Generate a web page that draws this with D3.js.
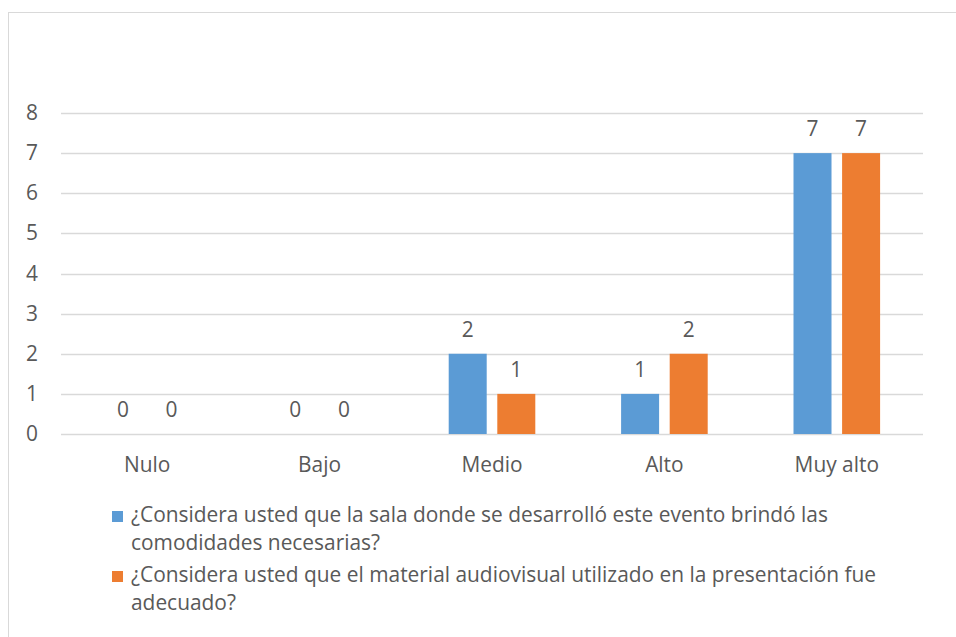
<!DOCTYPE html>
<html>
<head>
<meta charset="utf-8">
<script src="https://cdn.jsdelivr.net/npm/d3@7"></script>
<style>
  body { margin: 0; background: #fff; }
  svg text { font-family: "Open Sans", "Liberation Sans", sans-serif; fill: #595959; }
</style>
</head>
<body>
<div id="chart"></div>
<script>
var categories = ['Nulo', 'Bajo', 'Medio', 'Alto', 'Muy alto'];
var seriesNames = [
  '¿Considera usted que la sala donde se desarrolló este evento brindó las comodidades necesarias?',
  '¿Considera usted que el material audiovisual utilizado en la presentación fue adecuado?'
];
// legend text is wrapped in two lines, like the original
var legendLines = [
  ['¿Considera usted que la sala donde se desarrolló este evento brindó las', 'comodidades necesarias?'],
  ['¿Considera usted que el material audiovisual utilizado en la presentación fue', 'adecuado?']
];
var salaValues = [0, 0, 2, 1, 7];
var materialValues = [0, 0, 1, 2, 7];
var yTicks = [0, 1, 2, 3, 4, 5, 6, 7, 8];
var colors = ['#5B9BD5', '#ED7D31'];

var width = 956, height = 637;
var plot = { left: 61, right: 923, top: 113, bottom: 434 };
var fontSize = 20.9;

var svg = d3.select('#chart').append('svg')
  .attr('width', width)
  .attr('height', height);

// chart frame (only left and top edges visible in the picture)
svg.append('rect')
  .attr('x', 8.5).attr('y', 12.5)
  .attr('width', 1000).attr('height', 1000)
  .attr('fill', 'none')
  .attr('stroke', '#d9d9d9')
  .attr('stroke-width', 1);

var y = d3.scaleLinear().domain([0, 8]).range([plot.bottom, plot.top]);

var x0 = d3.scaleBand()
  .domain(categories)
  .range([plot.left, plot.right])
  .paddingInner(0.4977)
  .paddingOuter(0.4977 / 2);

var x1 = d3.scaleBand()
  .domain([0, 1])
  .range([0, x0.bandwidth()])
  .paddingInner(0.218);

// gridlines
svg.append('g').selectAll('line')
  .data(yTicks)
  .enter()
  .append('line')
  .attr('x1', plot.left)
  .attr('x2', plot.right)
  .attr('y1', d => Math.round(y(d)) + 0.5)
  .attr('y2', d => Math.round(y(d)) + 0.5)
  .attr('stroke', '#d9d9d9')
  .attr('stroke-width', 1.3);

// y tick labels
svg.append('g').selectAll('text')
  .data(yTicks)
  .enter()
  .append('text')
  .attr('x', 38)
  .attr('y', d => y(d) + 7)
  .attr('text-anchor', 'end')
  .attr('font-size', fontSize)
  .text(d => d);

// x category labels
svg.append('g').selectAll('text')
  .data(categories)
  .enter()
  .append('text')
  .attr('x', d => x0(d) + x0.bandwidth() / 2)
  .attr('y', 472)
  .attr('text-anchor', 'middle')
  .attr('font-size', fontSize)
  .text(d => d);

var series = [salaValues, materialValues];

series.forEach(function (values, si) {
  var g = svg.append('g');
  g.selectAll('rect')
    .data(values)
    .enter()
    .append('rect')
    .attr('x', (d, i) => x0(categories[i]) + x1(si))
    .attr('y', d => y(d))
    .attr('width', x1.bandwidth())
    .attr('height', d => y(0) - y(d))
    .attr('fill', colors[si]);

  // value labels
  g.selectAll('text')
    .data(values)
    .enter()
    .append('text')
    .attr('x', (d, i) => x0(categories[i]) + x1(si) + x1.bandwidth() / 2)
    .attr('y', d => y(d) - 17)
    .attr('text-anchor', 'middle')
    .attr('font-size', fontSize)
    .text(d => d);
});

// legend
var legend = svg.append('g');
legendLines.forEach(function (lines, si) {
  var baseY = 522 + si * 60;
  legend.append('rect')
    .attr('x', 112)
    .attr('y', baseY - 11)
    .attr('width', 11)
    .attr('height', 11)
    .attr('fill', colors[si]);
  var t = legend.append('text')
    .attr('font-size', fontSize)
    .attr('y', baseY);
  t.append('title').text(seriesNames[si]);
  lines.forEach(function (line, li) {
    t.append('tspan')
      .attr('x', 131)
      .attr('y', baseY + li * 28)
      .text(line);
  });
});
</script>
</body>
</html>
